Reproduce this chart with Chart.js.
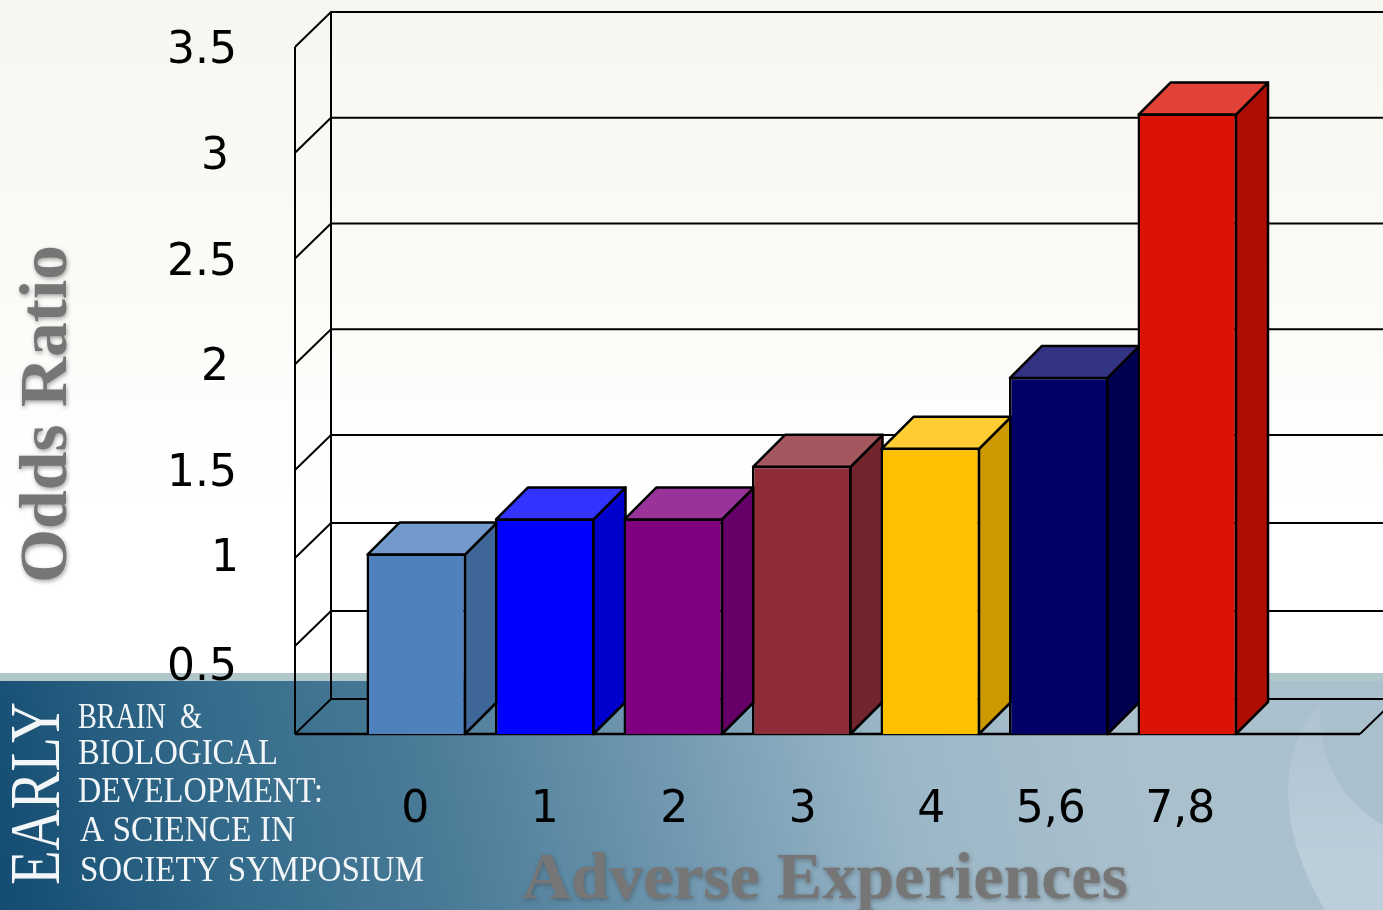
<!DOCTYPE html>
<html>
<head>
<meta charset="utf-8">
<title>Odds Ratio by Adverse Experiences</title>
<script src="https://cdn.jsdelivr.net/npm/chart.js@4"></script>
<style>
    html, body { margin: 0; padding: 0; background: #fff; overflow: hidden; }
    canvas { display: block; }
</style>
</head>
<body>
<canvas id="plotOdds" width="1383" height="910"></canvas>
<script>
// Chart data
const categories = ['0', '1', '2', '3', '4', '5,6', '7,8'];
const oddsRatio = [1.025, 1.225, 1.225, 1.52, 1.605, 1.94, 3.185];
const barColors = ['#4f81bd', '#0000ff', '#800080', '#8e2d38', '#ffc000', '#000066', '#da1305'];
const yTickValues = [0.5, 1, 1.5, 2, 2.5, 3, 3.5];
const yTickLabels = ['0.5', '1', '1.5', '2', '2.5', '3', '3.5'];
const yAxisTitle = 'Odds Ratio';
const xAxisTitle = 'Adverse Experiences';
const bannerWord = 'EARLY';
const bannerLines = ['BRAIN  &', 'BIOLOGICAL', 'DEVELOPMENT:', 'A SCIENCE IN', 'SOCIETY SYMPOSIUM'];

// The value axis changes pitch at 1.5: the part below is drawn more compressed
const KINK_VALUE = 1.5;
const KINK_FRACTION = 264 / 687;

class KinkedLinearScale extends Chart.LinearScale {
    static id = 'kinkedLinear';

    getPixelForValue(value) {
        const top = this.max;
        let fraction;
        if (value <= KINK_VALUE) {
            fraction = value / KINK_VALUE * KINK_FRACTION;
        } else {
            fraction = KINK_FRACTION + (value - KINK_VALUE) / (top - KINK_VALUE) * (1 - KINK_FRACTION);
        }
        return this.getPixelForDecimal(fraction);
    }

    getValueForPixel(pixel) {
        const fraction = this.getDecimalForPixel(pixel);
        if (fraction <= KINK_FRACTION) {
            return fraction / KINK_FRACTION * KINK_VALUE;
        }
        return KINK_VALUE + (fraction - KINK_FRACTION) / (1 - KINK_FRACTION) * (this.max - KINK_VALUE);
    }
}
Chart.register(KinkedLinearScale);

// Box geometry
const WALL_LEFT = 295;
const WALL_DX = 36;
const WALL_DY = 35;
const FLOOR_RIGHT = 1360;
const BAR_DEPTH = 32;
const BLACK = '#000';

// Small nudges for tick text, the labels do not sit exactly on the ticks
const yLabelPlacement = {
    '0.5': { x: 202, dy: 34 },
    '1': { x: 225, dy: 12.5 },
    '1.5': { x: 202, dy: 16 },
    '2': { x: 215, dy: 16 },
    '2.5': { x: 202, dy: 16 },
    '3': { x: 215, dy: 16.5 },
    '3.5': { x: 202, dy: 16 }
};
const xLabelNudge = [-1, 0, 1, 1, 1, -8, -7];

function mixColor(hex, factor, target) {
    const n = parseInt(hex.slice(1), 16);
    const channels = [(n >> 16) & 255, (n >> 8) & 255, n & 255];
    const mixed = channels.map(c => Math.round(c * factor + target * (1 - factor)));
    return `rgb(${mixed[0]},${mixed[1]},${mixed[2]})`;
}

// Draws text squeezed or stretched to an exact width
function fittedText(ctx, text, x, y, width) {
    const natural = ctx.measureText(text).width;
    ctx.save();
    ctx.translate(x, y);
    ctx.scale(width / natural, 1);
    ctx.fillText(text, 0, 0);
    ctx.restore();
}

function polygon(ctx, points, fill) {
    ctx.beginPath();
    points.forEach((p, i) => i ? ctx.lineTo(p[0], p[1]) : ctx.moveTo(p[0], p[1]));
    ctx.closePath();
    ctx.fillStyle = fill;
    ctx.fill();
    ctx.stroke();
}

const backdropPlugin = {
    id: 'backdrop',
    beforeDraw(chart) {
        const ctx = chart.ctx;
        const w = chart.width;
        const h = chart.height;
        ctx.save();

        const sky = ctx.createLinearGradient(0, 0, 0, 500);
        sky.addColorStop(0, '#f8f6f0');
        sky.addColorStop(0.5, '#fbfaf6');
        sky.addColorStop(1, '#ffffff');
        ctx.fillStyle = sky;
        ctx.fillRect(0, 0, w, h);

        ctx.fillStyle = '#b2c7cb';
        ctx.fillRect(0, 673, w, 8);

        const sea = ctx.createLinearGradient(0, 880, 1100, 640);
        sea.addColorStop(0, '#144c72');
        sea.addColorStop(0.2, '#336a8a');
        sea.addColorStop(0.4, '#4b7c98');
        sea.addColorStop(0.6, '#7299b1');
        sea.addColorStop(0.8, '#9bb7c7');
        sea.addColorStop(1, '#abc0cd');
        ctx.fillStyle = sea;
        ctx.fillRect(0, 681, w, h - 681);

        // Pale crescent in the bottom right corner
        const glow = ctx.createLinearGradient(0, 700, 0, 860);
        glow.addColorStop(0, 'rgba(205,220,232,0.08)');
        glow.addColorStop(1, 'rgba(205,220,232,0.5)');
        ctx.beginPath();
        ctx.moveTo(1320, 703);
        ctx.bezierCurveTo(1282, 745, 1272, 820, 1325, 910);
        ctx.lineTo(1383, 910);
        ctx.lineTo(1383, 825);
        ctx.bezierCurveTo(1340, 800, 1318, 760, 1320, 703);
        ctx.closePath();
        ctx.fillStyle = glow;
        ctx.fill();
        ctx.restore();
    }
};

const boxPlugin = {
    id: 'box3d',
    beforeDatasetsDraw(chart) {
        const ctx = chart.ctx;
        const yScale = chart.scales.y;
        const w = chart.width;
        const yTop = yScale.getPixelForValue(yScale.max);
        const yBase = yScale.getPixelForValue(0);
        ctx.save();
        ctx.strokeStyle = BLACK;
        ctx.lineWidth = 2;

        // Wall lines, one per tick
        yScale.ticks.forEach(tick => {
            const y = yScale.getPixelForValue(tick.value);
            ctx.beginPath();
            ctx.moveTo(WALL_LEFT, y);
            ctx.lineTo(WALL_LEFT + WALL_DX, y - WALL_DY);
            ctx.lineTo(w, y - WALL_DY);
            ctx.stroke();
        });

        ctx.beginPath();
        ctx.moveTo(WALL_LEFT, yTop);
        ctx.lineTo(WALL_LEFT, yBase);
        ctx.moveTo(WALL_LEFT + WALL_DX, yTop - WALL_DY);
        ctx.lineTo(WALL_LEFT + WALL_DX, yBase - WALL_DY);
        ctx.moveTo(FLOOR_RIGHT, yBase);
        ctx.lineTo(FLOOR_RIGHT + WALL_DX, yBase - WALL_DY);
        ctx.stroke();

        ctx.lineWidth = 2.5;
        ctx.beginPath();
        ctx.moveTo(WALL_LEFT, yBase);
        ctx.lineTo(FLOOR_RIGHT, yBase);
        ctx.stroke();

        // Side and top faces of each bar
        ctx.lineWidth = 2.5;
        ctx.lineJoin = 'round';
        chart.getDatasetMeta(0).data.forEach((bar, i) => {
            const left = bar.x - bar.width / 2 + 1;
            const right = bar.x + bar.width / 2 - 1;
            const top = bar.y + 1;
            const color = barColors[i];
            polygon(ctx, [
                [right, top],
                [right + BAR_DEPTH, top - BAR_DEPTH],
                [right + BAR_DEPTH, bar.base - BAR_DEPTH],
                [right, bar.base]
            ], mixColor(color, 0.8, 0));
            polygon(ctx, [
                [left, top],
                [left + BAR_DEPTH, top - BAR_DEPTH],
                [right + BAR_DEPTH, top - BAR_DEPTH],
                [right, top]
            ], mixColor(color, 0.8, 255));
        });
        ctx.restore();
    },
    afterDraw(chart) {
        const ctx = chart.ctx;
        const yScale = chart.scales.y;
        const bars = chart.getDatasetMeta(0).data;
        ctx.save();

        // Tick text
        ctx.fillStyle = BLACK;
        ctx.font = '44px "DejaVu Sans"';
        ctx.textAlign = 'center';
        ctx.textBaseline = 'alphabetic';
        yTickValues.forEach((value, i) => {
            const label = yTickLabels[i];
            const spot = yLabelPlacement[label];
            ctx.fillText(label, spot.x, yScale.getPixelForValue(value) + spot.dy);
        });
        categories.forEach((label, i) => {
            ctx.fillText(label, bars[i].x + xLabelNudge[i], 822);
        });

        // Axis titles
        ctx.textAlign = 'left';
        ctx.fillStyle = '#767676';
        ctx.shadowColor = 'rgba(60,60,60,0.45)';
        ctx.shadowBlur = 4;
        ctx.shadowOffsetX = 1;
        ctx.shadowOffsetY = 2;
        ctx.font = 'bold 66px "Liberation Serif"';
        fittedText(ctx, xAxisTitle, 522, 898, 606);
        ctx.font = 'bold 68px "Liberation Serif"';
        ctx.save();
        ctx.translate(66, 583);
        ctx.rotate(-Math.PI / 2);
        fittedText(ctx, yAxisTitle, 0, 0, 338);
        ctx.restore();
        ctx.shadowColor = 'transparent';
        ctx.shadowBlur = 0;
        ctx.shadowOffsetX = 0;
        ctx.shadowOffsetY = 0;

        // Symposium banner
        ctx.fillStyle = '#f2f6f8';
        ctx.font = '71px "Liberation Serif"';
        ctx.save();
        ctx.translate(59, 885);
        ctx.rotate(-Math.PI / 2);
        fittedText(ctx, bannerWord, 0, 0, 183);
        ctx.restore();

        const lineSpots = [[78, 728, 124], [78, 764, 200], [78, 802, 245], [80, 841, 215], [80, 881, 344]];
        ctx.font = '36px "Liberation Serif"';
        bannerLines.forEach((line, i) => {
            const spot = lineSpots[i];
            fittedText(ctx, line, spot[0], spot[1], spot[2]);
        });
        ctx.restore();
    }
};

new Chart(document.getElementById('plotOdds'), {
    type: 'bar',
    data: {
        labels: categories,
        datasets: [{
            data: oddsRatio,
            backgroundColor: barColors,
            borderColor: BLACK,
            borderWidth: 2.5,
            barPercentage: 99.5 / 128.5,
            categoryPercentage: 1,
            clip: false
        }]
    },
    options: {
        responsive: false,
        animation: false,
        layout: {
            padding: { left: 352.0, right: 131.5, top: 47, bottom: 176 }
        },
        plugins: {
            legend: { display: false },
            title: { display: false },
            tooltip: { enabled: false }
        },
        scales: {
            x: { display: false, grid: { display: false } },
            y: {
                type: 'kinkedLinear',
                display: false,
                min: 0,
                max: 3.5,
                ticks: { stepSize: 0.5 },
                grid: { display: false }
            }
        }
    },
    plugins: [backdropPlugin, boxPlugin]
});
</script>
</body>
</html>
